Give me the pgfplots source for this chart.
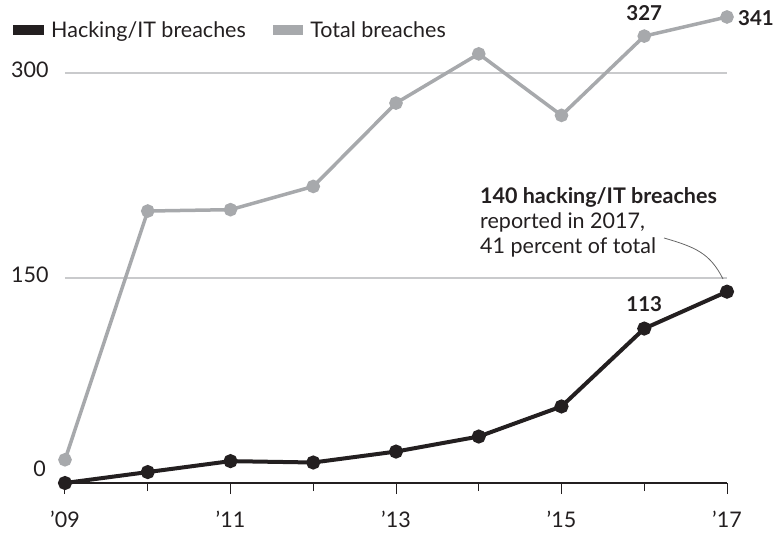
\documentclass[border=0pt]{standalone}
\usepackage{pgfplots}
\pgfplotsset{compat=1.18}
\usepackage{fontspec}
\setmainfont{Lato}
\definecolor{hackc}{HTML}{231F20}
\definecolor{totc}{HTML}{A7A9AC}
\definecolor{gridc}{HTML}{C9CACC}
\definecolor{leadc}{HTML}{666666}
\newcommand{\fs}{\fontsize{21.5}{25}\selectfont}
\newcommand{\fb}{\fontsize{20.5}{25}\selectfont\bfseries}
\begin{document}
\begin{tikzpicture}[x=1pt,y=1pt]
\useasboundingbox (-65,-53) rectangle (711,483);
\begin{axis}[
  at={(0,0)}, anchor=south west,
  scale only axis, width=662pt, height=478.33pt,
  xmin=2009, xmax=2017, ymin=0, ymax=350,
  clip=false,
  /pgf/number format/assume math mode=true,
  axis x line=bottom, axis y line=left,
  x axis line style={-, hackc, line width=1.1pt},
  y axis line style={draw=none},
  xtick={2009,2011,2013,2015,2017},
  xticklabels={’09,’11,’13,’15,’17},
  minor xtick={2010,2012,2014,2016},
  tick align=outside,
  major tick length=11pt, minor tick length=8pt,
  xtick style={hackc, line width=1pt},
  ytick={150,300},
  ytick style={draw=none},
  ymajorgrids, grid style={gridc, line width=1.2pt},
  ticklabel style={font=\fs, text=hackc},
  xticklabel style={yshift=-17pt, inner sep=0pt},
  yticklabel style={anchor=east, xshift=-2pt, yshift=3pt},
  legend style={at={(axis description cs:-0.0785,0.947)}, anchor=west, draw=none, fill=none,
    font=\fs, text=hackc, inner sep=0pt, column sep=0pt},
  legend columns=2,
  legend cell align=left,
  /tikz/every odd column/.append style={column sep=5pt},
  /tikz/every even column/.append style={column sep=25pt},
  legend image code/.code={\fill (0pt,-3pt) rectangle (27pt,3pt);},
]
\addplot[color=hackc, line width=4pt, mark=*, mark size=5pt] coordinates {
(2009,0) (2010,8) (2011,16) (2012,15) (2013,23) (2014,34) (2015,56) (2016,113) (2017,140)};
\addlegendentry{Hacking/IT breaches}
\addplot[color=totc, line width=3.5pt, mark=*, mark size=5pt] coordinates {
(2009,17) (2010,199) (2011,200) (2012,217) (2013,278) (2014,314) (2015,269) (2016,327) (2017,341)};
\addlegendentry{Total breaches}
\node[anchor=east, font=\fs, text=hackc, inner sep=0pt] at ([xshift=-19pt, yshift=14.5pt]axis cs:2009,0) {0};
\node[font=\fb, text=hackc, inner sep=0pt] at ([yshift=24pt]axis cs:2016,113) {113};
\node[font=\fb, text=hackc, inner sep=0pt] at ([yshift=23pt]axis cs:2016,327) {327};
\node[anchor=west, font=\fb, text=hackc, inner sep=0pt] at ([xshift=11pt, yshift=-1pt]axis cs:2017,341) {341};
\end{axis}
\node[anchor=north west, align=left, font=\fs, text=hackc, inner sep=0pt] at (415,296)
  {\textbf{140 hacking/IT breaches}\\reported in 2017,\\41 percent of total};
\draw[leadc, line width=0.8pt] (599,245) .. controls (630,236) and (645,230) .. (658,204);
\end{tikzpicture}
\end{document}
